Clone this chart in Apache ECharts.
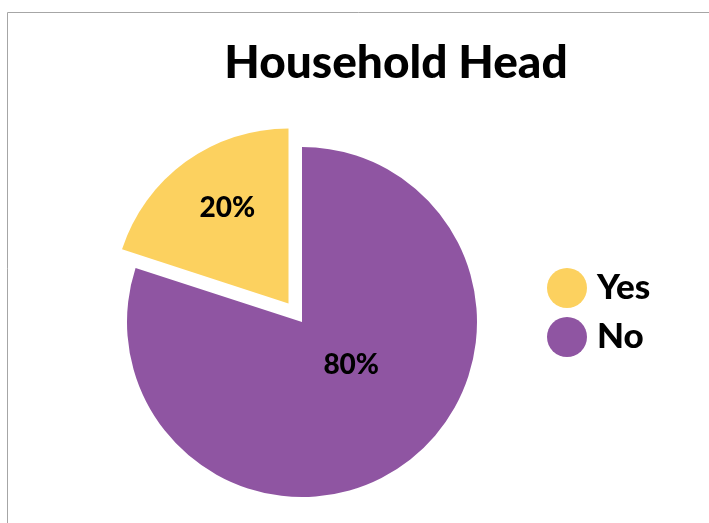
<!DOCTYPE html>
<html><head><meta charset="utf-8">
<script src="https://cdn.jsdelivr.net/npm/echarts@6/dist/echarts.min.js"></script>
<style>html,body{margin:0;padding:0;background:#fff}#c{width:709px;height:523px}</style>
</head><body><div id="c"></div>
<script>
const titleText = 'Household Head';
const categories = ['Yes', 'No'];
const values = [20, 80];
const colors = ['#FCD15F', '#8F55A2'];

const chart = echarts.init(document.getElementById('c'), null, {renderer: 'canvas'});
const FONT = 'Lato';
const labelOffsets = [[-8, -22], [-4, -30]];
chart.setOption({
  animation: false,
  graphic: [{
    type: 'rect', silent: true,
    shape: {x: 7.5, y: 12.5, width: 900, height: 700},
    style: {fill: 'none', stroke: '#A6A6A6', lineWidth: 1}
  }],
  title: {
    text: titleText, left: 391, top: 35, textAlign: 'center',
    textStyle: {fontFamily: FONT, fontWeight: 900, fontSize: 46, color: '#000'}
  },
  legend: {
    orient: 'vertical', left: 542, top: 263,
    itemWidth: 40, itemHeight: 40, itemGap: 9, icon: 'circle',
    data: categories,
    textStyle: {fontFamily: FONT, fontWeight: 900, fontSize: 35, color: '#000', padding: [0, 0, 0, 5]}
  },
  series: [{
    type: 'pie', center: [302, 322], radius: 175,
    startAngle: 90, clockwise: false,
    selectedMode: 'single', selectedOffset: 23,
    label: {
      position: 'inside', formatter: '{d}%',
      fontFamily: FONT, fontWeight: 900, fontSize: 28, color: '#000'
    },
    labelLine: {show: false},
    emphasis: {disabled: true},
    data: categories.map((c, i) => ({
      name: c, value: values[i], selected: i === 0,
      itemStyle: {color: colors[i]},
      label: {offset: labelOffsets[i]},
      select: {label: {offset: labelOffsets[i]}}
    }))
  }]
});
</script></body></html>
